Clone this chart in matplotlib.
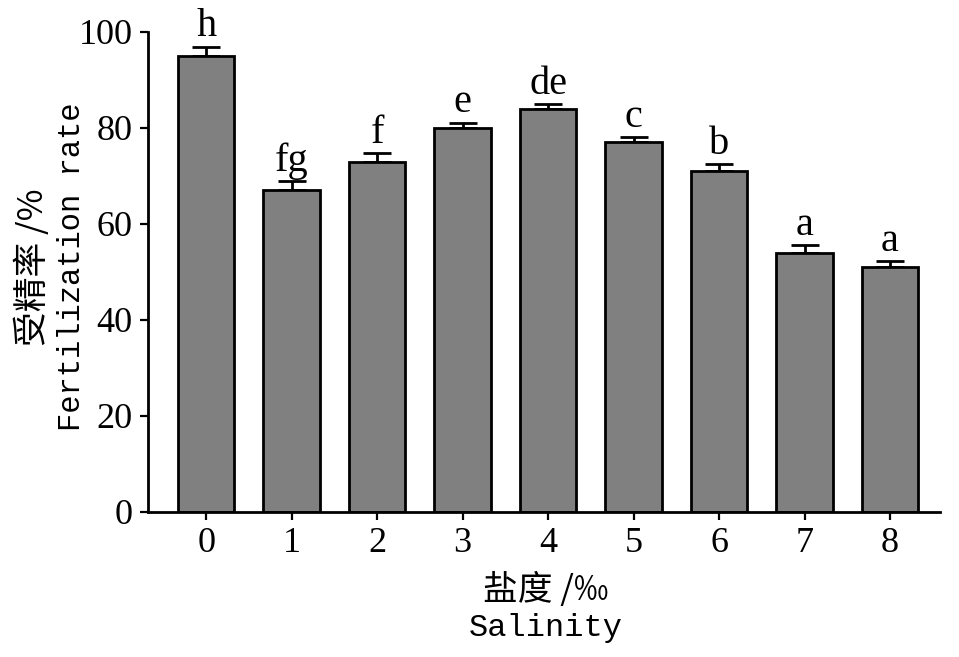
import matplotlib
matplotlib.use("Agg")
import matplotlib.pyplot as plt

categories = ["0", "1", "2", "3", "4", "5", "6", "7", "8"]
rates = [95.0, 67.0, 73.0, 80.0, 84.0, 77.0, 71.0, 54.0, 51.0]
errors = [1.9, 1.9, 1.7, 1.1, 0.9, 1.1, 1.4, 1.6, 1.3]
letters = ["h", "fg", "f", "e", "de", "c", "b", "a", "a"]
yticks = [0, 20, 40, 60, 80, 100]

serif = ["Liberation Serif", "DejaVu Serif"]
mono = ["Liberation Mono", "DejaVu Sans Mono"]
cjk = ["Noto Sans CJK SC", "DejaVu Sans"]

fig = plt.figure(figsize=(9.59, 6.57), dpi=100)
ax = fig.add_axes([148/959, 1-512/657, (940-148)/959, (512-32)/657])

x = list(range(len(categories)))
ax.bar(x, rates, width=0.66, color="#808080", edgecolor="black", linewidth=2.0, zorder=2)
ax.errorbar(x, rates, yerr=[[0]*len(errors), errors], fmt="none", ecolor="black",
            elinewidth=2.0, capsize=10, capthick=2.0, zorder=1)
for xi, r, e, lab in zip(x, rates, errors, letters):
    ax.annotate(lab, (xi, r + e), xytext=(0, 1), textcoords="offset points",
                ha="center", va="bottom", fontsize=29, family=serif)

ax.set_xlim(-0.68, 8.585)
ax.set_ylim(0, 100)
ax.set_xticks(x)
ax.set_xticklabels(categories, family=serif, fontsize=26)
ax.set_yticks(yticks)
ax.set_yticklabels([str(v) for v in yticks], family=serif, fontsize=26)
for s in ["top", "right"]:
    ax.spines[s].set_visible(False)
for s in ["left", "bottom"]:
    ax.spines[s].set_linewidth(2.0)
ax.tick_params(axis="both", direction="out", length=6, width=1.6, pad=5)

fig.text(33/959, 1-267/657, "受精率 /%", rotation=90, ha="center", va="center",
         fontsize=25, family=cjk)
fig.text(72/959, 1-267/657, "Fertilization rate", rotation=90, ha="center", va="center",
         fontsize=22, family=mono)
fig.text(546/959, 1-590/657, "盐度 /‰", ha="center", va="center", fontsize=25, family=cjk)
fig.text(546/959, 1-628/657, "Salinity", ha="center", va="center", fontsize=23, family=mono)

fig.savefig("out.png", dpi=100)
